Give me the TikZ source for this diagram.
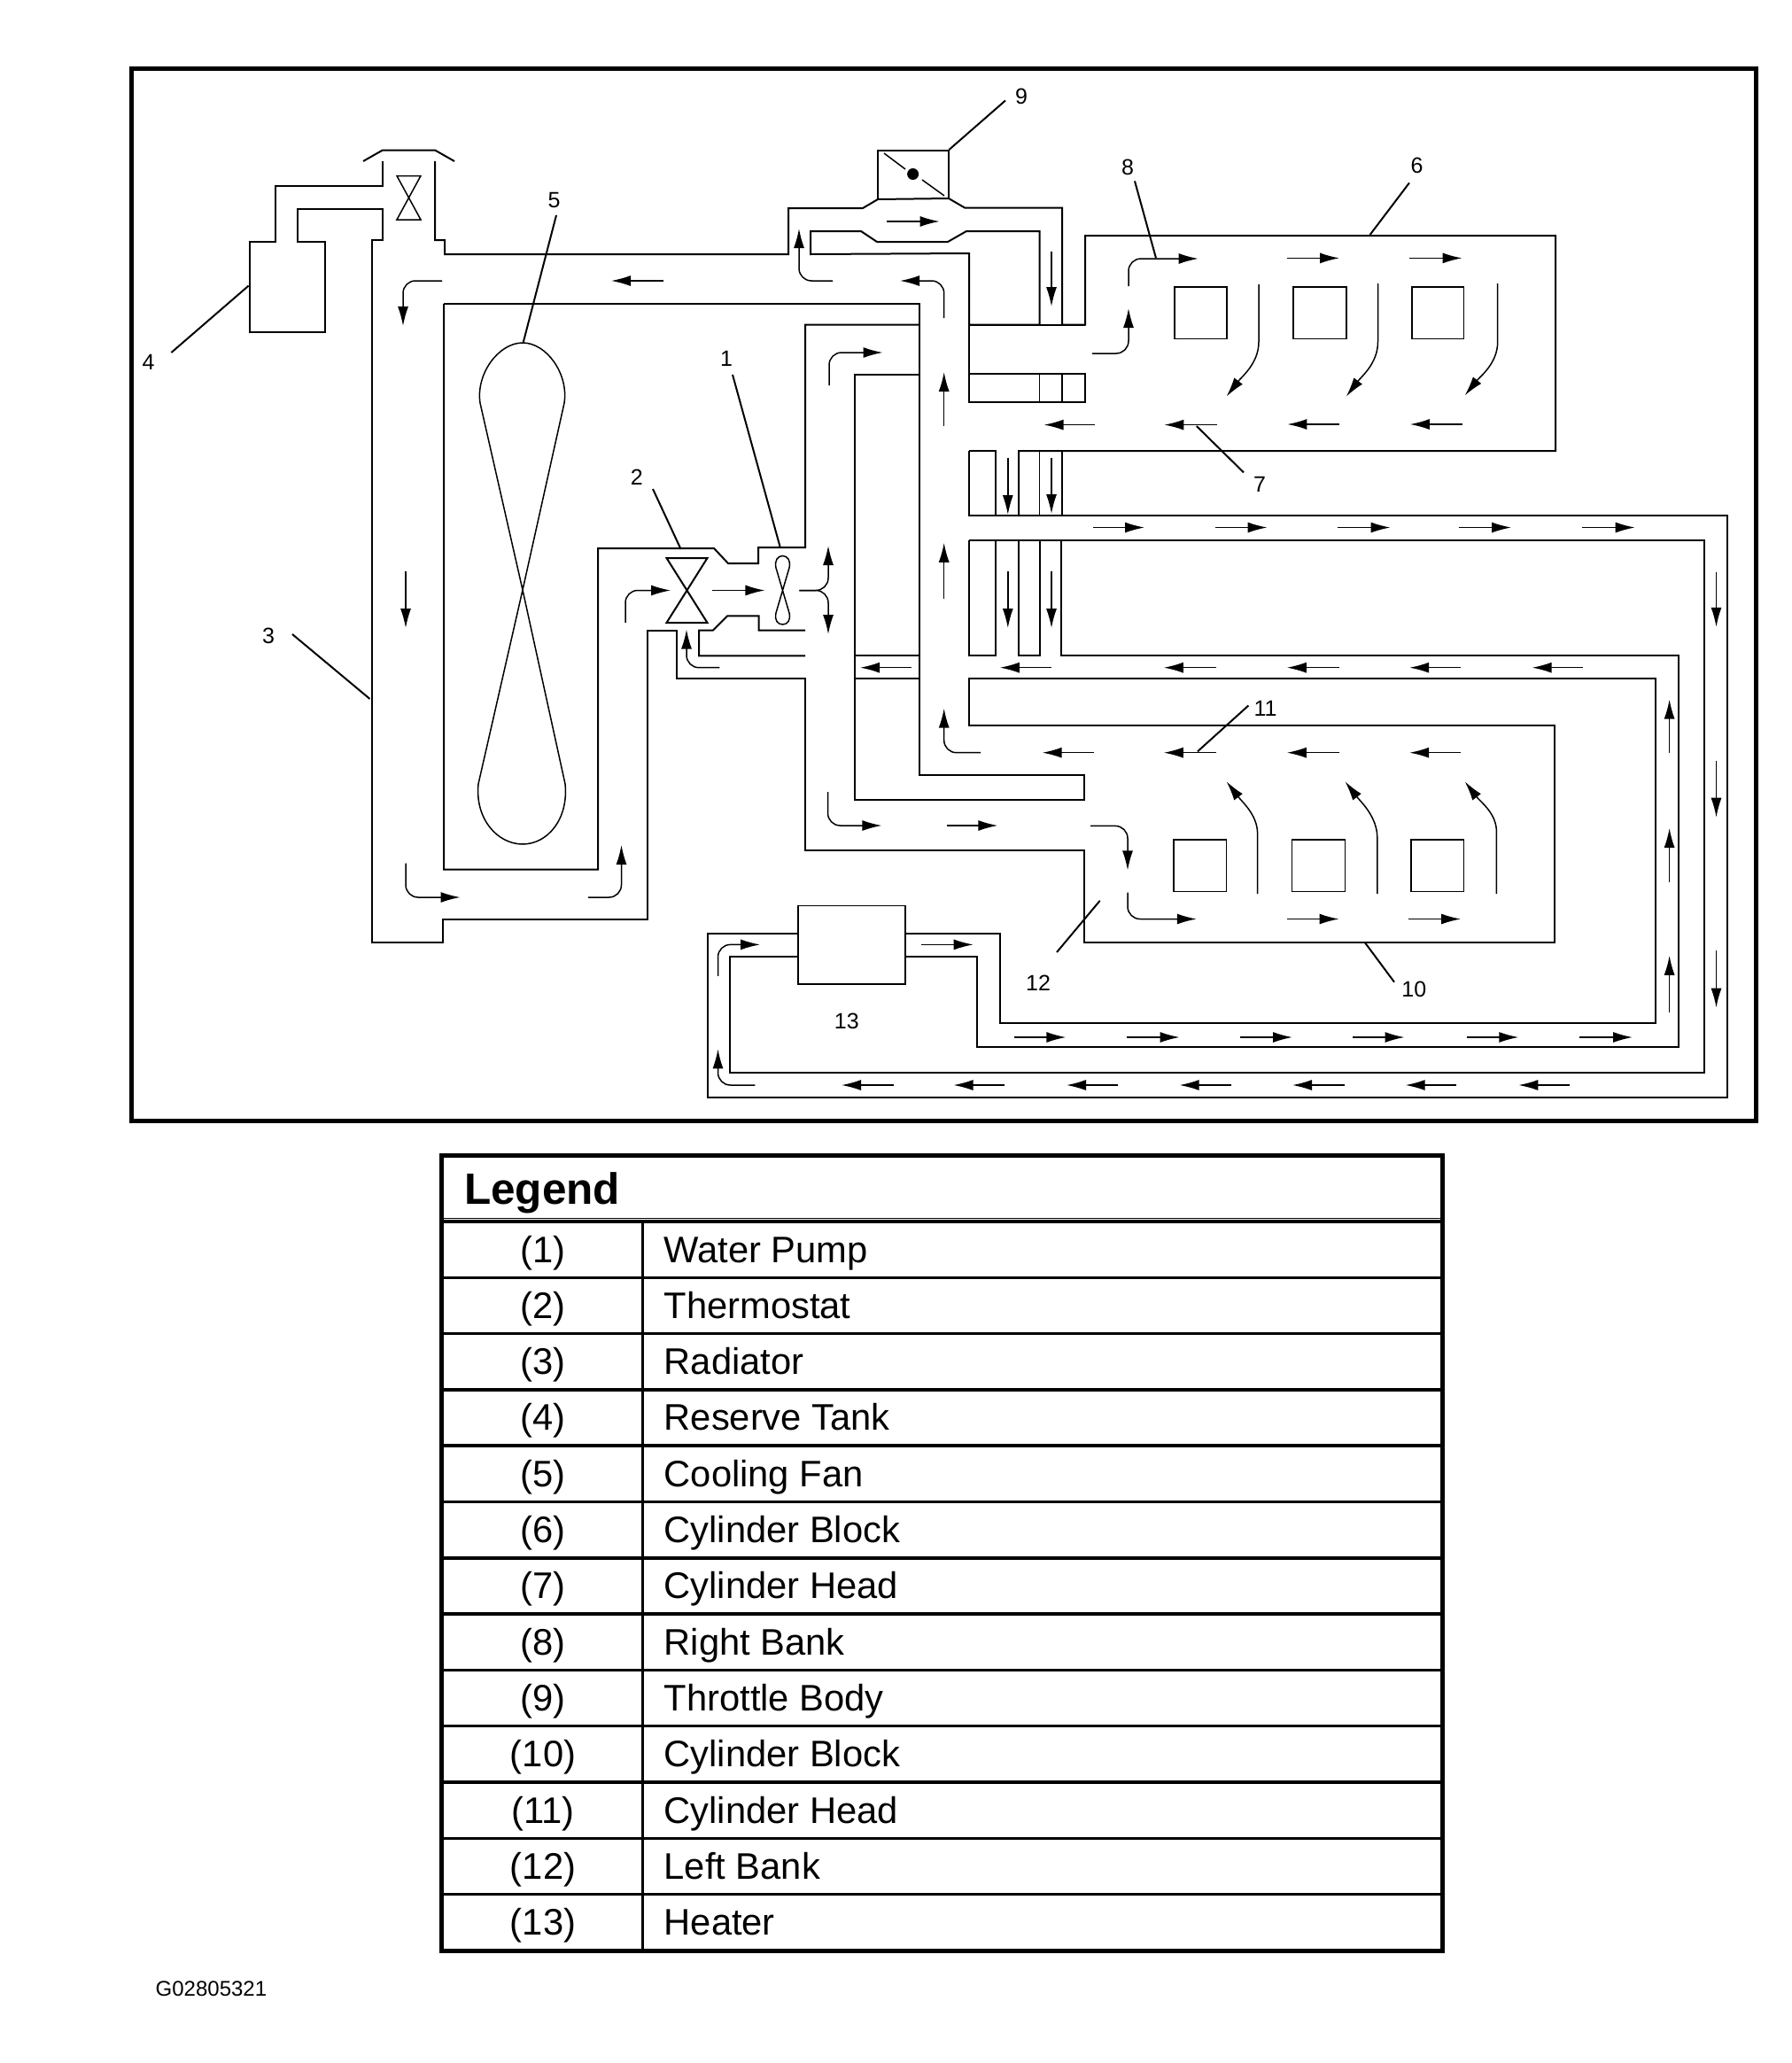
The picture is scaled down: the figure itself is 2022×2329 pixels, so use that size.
\documentclass[tikz,border=0pt]{standalone}
\usepackage{fontspec}
\setmainfont{Liberation Sans}
\usetikzlibrary{arrows.meta}
\tikzset{
  pipe/.style={line width=2pt,line join=miter},
  thinpipe/.style={line width=1.5pt},
  flow/.style={line width=1.5pt,-{Latex[length=22pt,width=12pt]}},
  elbow/.style={flow,rounded corners=14pt},
  lead/.style={line width=2pt},
  partnum/.style={font=\fontsize{25}{28}\selectfont},
  legendtxt/.style={font=\fontsize{41.7}{50}\selectfont,inner sep=0pt},
}
\begin{document}
\begin{tikzpicture}[x=1pt,y=-1pt]
  \useasboundingbox (0,0) rectangle (2022,2329);
  % frame
  \draw[line width=5pt] (148,77) rectangle (1982,1265);
  % filler cap and reserve tank
  \draw[pipe] (410,182)--(432,169.5)--(491,169.5)--(513,182);
  \draw[thinpipe] (448,198.5)--(475,198.5)--(448,248)--(475,248)--cycle;
  \draw[pipe] (432,182)--(432,210)--(311,210)--(311,273)--(282,273)--(282,375)--(367,375)--(367,273)--(336,273)--(336,236)--(432,236)--(432,271)--(420,271)--(420,1064)--(500,1064)--(500,1037.5)--(731,1037.5)--(731,711.5)--(763.5,711.5)--(763.5,765.7)--(909,765.7)--(909,959.5)--(1224,959.5)--(1224,1063.7)--(1754.5,1063.7)--(1754.5,819)--(1094,819)--(1094,765.7)--(1868.6,765.7)--(1868.6,1155)--(1129,1155)--(1129,1053.6)--(1022,1053.6);
  % upper water line and throttle body
  \draw[pipe] (491,182)--(491,271)--(502,271)--(502,287)--(890,287)--(890,235)--(974,235)--(991,225)--(1071,224)--(1089,234.5)--(1199,234.5)--(1199,366.6)--(1225,366.6)--(1225,266)--(1756,266)--(1756,509)--(1150,509)--(1150,583);
  \draw[pipe] (991,225)--(991,170)--(1071,170)--(1071,224);
  \draw[pipe] (915,287)--(915,261)--(972,261)--(990,273)--(1070,273)--(1091,261)--(1173.5,261)--(1173.5,366.6)--(1094,366.6)--(1094,286)--cycle;
  \draw[thinpipe] (998,173)--(1022,191);
  \draw[thinpipe] (1041,203)--(1066,221);
  \fill (1030.6,196.5) circle (6.5);
  % radiator core and pump housing
  \draw[pipe] (501,343)--(1038,343)--(1038,875.4)--(1224,875.4)--(1224,903)--(965,903)--(965,423)--(1038,423);
  \draw[pipe] (501,343)--(501,981.5)--(675,981.5)--(675,619)--(806,619)--(822,636)--(856,636)--(856,618)--(909,618)--(909,366.6)--(1038,366.6);
  \draw[pipe] (909,711.5)--(856.5,711.5)--(856.5,695.4)--(821,695.4)--(805,711.5)--(789,711.5)--(789,740.4)--(909,740.4);
  \draw[pipe] (965,740.4)--(1037,740.4);
  \draw[pipe] (965,765.7)--(1037,765.7);
  % cooling fan, thermostat, water pump
  \draw[thinpipe] (590,666)--(637,455) .. controls (642,422) and (617,387) .. (590,387) .. controls (563,387) and (537,422) .. (542,455)--(590,666)--(638,885) .. controls (642,925) and (618,953) .. (590,953) .. controls (562,953) and (536,925) .. (540,885)--cycle;
  \draw[pipe] (752.5,630)--(798.5,630)--(752.5,703)--(798.5,703)--cycle;
  \draw[thinpipe] (883.5,666.5)--(891,641) .. controls (893,633) and (889,627.5) .. (883.5,627.5) .. controls (878,627.5) and (874,633) .. (876,641)--(883.5,666.5)--(891,692) .. controls (893,700) and (889,705) .. (883.5,705) .. controls (878,705) and (874,700) .. (876,692)--cycle;
  % passages between the banks
  \draw[pipe] (1094,366.6)--(1225,366.6);
  \draw[pipe] (1094,366.6)--(1094,453.5)--(1225,453.5)--(1225,422)--(1094,422);
  \draw[thinpipe] (1173.5,422)--(1173.5,453.5);
  \draw[thinpipe] (1199,422)--(1199,453.5);
  \draw[pipe] (1094,509)--(1124,509)--(1124,583);
  \draw[thinpipe] (1173.5,509)--(1173.5,583);
  \draw[thinpipe] (1199,509)--(1199,583);
  \draw[pipe] (1094,509)--(1094,582)--(1950,582)--(1950,1238.5)--(799,1238.5)--(799,1053.6)--(901,1053.6);
  \draw[pipe] (1094,609.6)--(1923.5,609.6)--(1923.5,1211)--(824.3,1211)--(824.3,1080)--(901,1080);
  \draw[pipe] (1094,609.6)--(1094,740.4)--(1124,740.4)--(1124,609.6);
  \draw[pipe] (1150,609.6)--(1150,740.4)--(1173.5,740.4)--(1173.5,609.6);
  \draw[pipe] (1198,609.6)--(1198,740.4)--(1895,740.4)--(1895,1181.5)--(1103,1181.5)--(1103,1080)--(1022,1080);
  % heater
  \draw[thinpipe] (901,1022.4) rectangle (1022,1111);
  % cylinders
  \foreach \xa/\xb in {1326/1385,1460/1520,1594/1652.4}{
    \draw[thinpipe] (\xa,324) rectangle (\xb,382.4);
  }
  \foreach \xa/\xb in {1325/1384.6,1458.5/1518.5,1593/1652.4}{
    \draw[thinpipe] (\xa,948) rectangle (\xb,1006.3);
  }
  % straight flow arrows, horizontal
  \foreach \yy/\xa/\xb in {
    317/748.5/690, 250/1001/1060.6, 291.4/1453/1512, 291.4/1591/1650.5,
    479.6/1236/1178.6, 479.6/1373.7/1314.4, 479/1512/1453.4, 479/1650.5/1591.8,
    595.5/1234/1292, 595.5/1371.8/1430.5, 595.5/1510/1569.5, 595.5/1646.7/1706, 595.5/1785.7/1845.7,
    753.7/1028.7/971, 753.7/1186.9/1128.8, 753.7/1373/1313.8, 753.7/1512/1452.8, 753.7/1649/1591.2, 753.7/1787/1729.6,
    849.7/1234.7/1176.7, 849.7/1373/1313.8, 849.7/1512/1452.8, 849.7/1649/1591.2,
    666.5/804/863.4, 932/1068.9/1126.3, 1037.5/1452.8/1511.5, 1037.5/1590/1649,
    1066.4/1040/1098.7,
    1171/1144.8/1203.4, 1171/1272.3/1331.6, 1171/1400/1459, 1171/1527.4/1585.5, 1171/1655.6/1714.3, 1171/1783/1843,
    1225/1772.3/1714.3, 1225/1644/1586.7, 1225/1517.9/1459, 1225/1390.3/1331.6, 1225/1261.5/1204, 1225/1133.9/1076.5, 1225/1008.6/950}{
    \draw[flow] (\xa,\yy)--(\xb,\yy);
  }
  % straight flow arrows, vertical
  \foreach \xx/\ya/\yb in {
    458/645/709, 1187/283.5/346, 1065.7/481/420, 1065.7/675.7/612.8,
    1137.8/516.8/581, 1187/516.8/580, 1137.8/645/709, 1187/645/709,
    1937.5/645.9/707.8, 1937.5/859.4/922.7, 1937.5/1073.3/1137.6,
    1884.6/850/789.6, 1884.6/996.2/935, 1884.6/1143/1078.8}{
    \draw[flow] (\xx,\ya)--(\xx,\yb);
  }
  % elbows
  \draw[elbow] (499,317)--(455,317)--(455,368);
  \draw[elbow] (940,317)--(902,317)--(902,258);
  \draw[elbow] (1065.7,359)--(1065.7,317)--(1016,317);
  \draw[elbow] (936,435)--(936,398)--(996.5,398);
  \draw[elbow] (1233,399)--(1274,399)--(1274,348);
  \draw[elbow] (1274,323)--(1274,292)--(1352.7,292);
  \draw[elbow] (1107,849.7)--(1065.7,849.7)--(1065.7,799.7);
  \draw[elbow] (1231,932.4)--(1273,932.4)--(1273,982.4);
  \draw[elbow] (1273,1007.7)--(1273,1037.5)--(1350.8,1037.5);
  \draw[elbow] (852.4,1225)--(810.5,1225)--(810.5,1184.4);
  \draw[elbow] (810.5,1101.8)--(810.5,1066.4)--(858,1066.4);
  \draw[elbow] (458,974.6)--(458,1013)--(519.5,1013);
  \draw[elbow] (664,1013)--(701.5,1013)--(701.5,954);
  \draw[elbow] (706,703)--(706,666.5)--(757,666.5);
  \draw[elbow] (902.4,666.5)--(935,666.5)--(935,616);
  \draw[elbow] (902.4,666.5)--(935,666.5)--(935,716);
  \draw[elbow] (812.3,753.7)--(775,753.7)--(775,710.6);
  \draw[elbow] (934.5,894)--(934.5,932)--(995.4,932);
  % coolant bending round the cylinders
  \draw[flow] (1421,321)--(1421,386) .. controls (1421,410) and (1402,425) .. (1384.6,447.6);
  \draw[flow] (1555.5,320)--(1555.5,386) .. controls (1555.5,410) and (1537,425) .. (1519.8,447.6);
  \draw[flow] (1690.7,320)--(1690.7,386) .. controls (1690.7,410) and (1671,425) .. (1653.7,446.4);
  \draw[flow] (1419.6,1009)--(1419.6,941) .. controls (1419.6,920) and (1402,905) .. (1384.6,882.3);
  \draw[flow] (1554.8,1009)--(1554.8,945.7) .. controls (1554.8,922) and (1536,905) .. (1518.5,882.3);
  \draw[flow] (1689.4,1009)--(1689.4,938.8) .. controls (1689.4,918) and (1671,905) .. (1653.7,882.3);
  % part numbers and leaders
  \foreach \num/\lx/\ly/\ax/\ay/\bx/\by in {
    1/820/405/827/423/880.5/617, 2/718.7/539/737/552/768.6/620,
    3/303/718/330/716/417.5/789, 4/167.5/408.7/193.4/398/280.6/322.6,
    5/625.6/226/628/243/590.6/387, 6/1599.5/186.6/1591/206.4/1546.6/265,
    7/1422/546.5/1404/533.4/1350.8/481, 8/1273/188.6/1281/204.4/1305/291.4,
    9/1153/108.4/1135/113.5/1071.4/169, 10/1596.3/1117/1574/1108.7/1540.8/1064,
    11/1428.6/799.7/1409.4/796.5/1352/848.3, 12/1172/1109.6/1193/1075/1241.7/1016.8}{
    \node[partnum] (part\num) at (\lx,\ly) {\num};
    \coordinate (leadA\num) at (\ax,\ay);
    \coordinate (leadB\num) at (\bx,\by);
    \draw[lead] (leadA\num)--(leadB\num);
  }
  \node[partnum] (part13) at (955.8,1153) {13};
  % legend
  \draw[line width=5pt] (498.5,1304) rectangle (1628,2202);
  \draw[line width=1.5pt] (499,1375.5)--(1628,1375.5);
  \node[font=\fontsize{49.5}{54}\bfseries\selectfont,anchor=base west,inner sep=0pt] (legendhead) at (524,1359) {Legend};
  \foreach \num/\txt in {1/Water Pump,2/Thermostat,3/Radiator,4/Reserve Tank,5/Cooling Fan,6/Cylinder Block,7/Cylinder Head,8/Right Bank,9/Throttle Body,10/Cylinder Block,11/Cylinder Head,12/Left Bank,13/Heater}{
    \pgfmathsetmacro{\rowline}{1379+63.3*(\num-1)}
    \pgfmathsetmacro{\rowbase}{1425+63.3*(\num-1)}
    \draw[line width=3.5pt] (499,\rowline)--(1628,\rowline);
    \node[legendtxt,anchor=base] (numcell\num) at (613,\rowbase) {(\num)};
    \node[legendtxt,anchor=base west] (namecell\num) at (749.5,\rowbase) {\txt};
  }
  \draw[line width=3pt] (725.5,1379)--(725.5,2202);
  \node[font=\fontsize{24}{28}\selectfont,anchor=base west,inner sep=0pt] (figcode) at (175.5,2253) {G02805321};
\end{tikzpicture}
\end{document}
